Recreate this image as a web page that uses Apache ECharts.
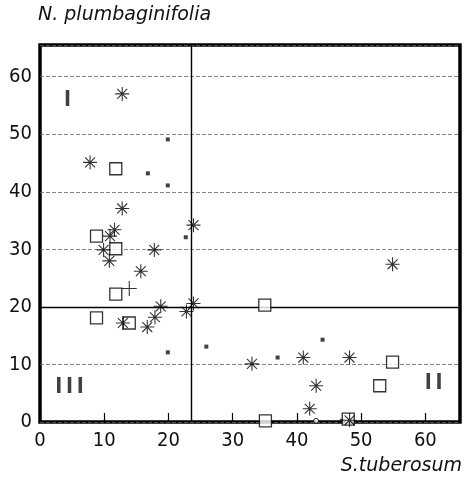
<!DOCTYPE html>
<html>
<head>
<meta charset="utf-8">
<title>N. plumbaginifolia vs S.tuberosum</title>
<script src="https://cdn.jsdelivr.net/npm/echarts@6/dist/echarts.min.js"></script>
<style>
  html, body { margin: 0; padding: 0; background: #fff; }
  #chart { width: 465px; height: 479px; }
</style>
</head>
<body>
<div id="chart"></div>
<script>
// axis ticks
var xTicks = [0, 10, 20, 30, 40, 50, 60];
var yTicks = [0, 10, 20, 30, 40, 50, 60];

// asterisk points [S.tuberosum, N.plumbaginifolia]
var starPts = [
  [12.8, 57.0], [7.8, 45.1], [12.8, 37.1], [23.9, 34.2], [11.6, 33.4],
  [10.9, 32.3], [9.9, 29.9], [10.8, 28.0], [17.8, 29.9], [15.7, 26.2],
  [18.8, 20.1], [17.9, 18.2], [16.7, 16.5], [12.9, 17.2], [23.9, 20.6],
  [22.8, 19.2], [33.0, 10.1], [41.0, 11.2], [48.2, 11.2], [43.0, 6.3],
  [42.0, 2.3], [54.9, 27.4], [48.2, 0.3]
];
// open squares
var squarePts = [
  [11.8, 44.0], [8.8, 32.3], [11.8, 30.1], [11.8, 22.2], [8.8, 18.1],
  [13.9, 17.2], [35.0, 20.3], [54.9, 10.4], [52.9, 6.3], [35.1, 0.2],
  [48.0, 0.5]
];
// small filled squares
var dotPts = [
  [16.8, 43.2], [19.9, 49.1], [19.9, 41.1], [22.7, 32.1], [19.9, 12.1],
  [25.9, 13.1], [37.0, 11.2], [44.0, 14.3], [47.0, 0.2]
];
// small open circle on the axis
var circlePts = [[43.0, 0.2]];
// plus sign
var plusPts = [[13.9, 23.2]];

// dividing lines
var xDivide = 23.6;
var yDivide = 20;

// quadrant labels
var quadLabels = [
  { name: 'I', value: [4.3, 55.8] },
  { name: 'I\u2009I', value: [61.3, 6.7] },
  { name: 'I\u2009I\u2009I', value: [4.6, 5.9] }
];

var font = "'DejaVu Sans Condensed', 'DejaVu Sans', sans-serif";
var nameFont = "'DejaVu Sans', sans-serif";
var starPath = 'path://M10 0L10 20M0 10L20 10M2.9 2.9L17.1 17.1M17.1 2.9L2.9 17.1';
var plusPath = 'path://M10 0L10 20M0 10L20 10';

var chart = echarts.init(document.getElementById('chart'), null, { renderer: 'canvas' });

var option = {
  animation: false,
  backgroundColor: '#fff',
  grid: {
    left: 40, right: 5, top: 45, bottom: 57,
    show: true, borderColor: '#000', borderWidth: 3.5
  },
  graphic: [
    {
      type: 'text', left: 38, top: 6,
      style: { text: 'N. plumbaginifolia', font: 'italic 19px ' + nameFont, fill: '#111' }
    },
    {
      type: 'text', right: 3, top: 457,
      style: { text: 'S.tuberosum', font: 'italic 19px ' + nameFont, fill: '#111' }
    }
  ],
  xAxis: {
    type: 'value', min: 0, max: 65.4, interval: 10,
    axisLine: { show: false },
    axisTick: { show: true, inside: true, length: 9, lineStyle: { color: '#000', width: 1.2 } },
    axisLabel: {
      margin: 9, fontSize: 20, fontFamily: font, color: '#111', showMaxLabel: false,
      formatter: function (v) { return xTicks.indexOf(v) >= 0 ? String(v) : ''; }
    },
    splitLine: { show: false }
  },
  yAxis: {
    type: 'value', min: 0, max: 65.5, interval: 10,
    axisLine: { show: false },
    axisTick: { show: false },
    axisLabel: {
      margin: 8, fontSize: 20, fontFamily: font, color: '#111', showMaxLabel: false,
      formatter: function (v) { return yTicks.indexOf(v) >= 0 ? String(v) : ''; }
    },
    splitLine: { show: true, lineStyle: { color: '#666', width: 0.8, type: [4, 2] } }
  },
  series: [
    {
      name: 'dots', type: 'scatter', data: dotPts,
      symbol: 'rect', symbolSize: 4,
      itemStyle: { color: '#111' },
      markLine: {
        z: 1, silent: true, symbol: 'none', label: { show: false },
        lineStyle: { color: '#000', width: 1.4, type: 'solid' },
        data: [{ xAxis: xDivide }, { yAxis: yDivide }]
      }
    },
    {
      name: 'circle', type: 'scatter', data: circlePts,
      symbol: 'circle', symbolSize: 5,
      itemStyle: { color: '#fff', borderColor: '#000', borderWidth: 1 }
    },
    {
      name: 'squares', type: 'scatter', data: squarePts,
      symbol: 'rect', symbolSize: 12,
      itemStyle: { color: '#fff', borderColor: '#000', borderWidth: 1.3 }
    },
    {
      name: 'stars', type: 'scatter', data: starPts,
      symbol: starPath, symbolSize: 14,
      itemStyle: { color: 'none', borderColor: '#000', borderWidth: 1.1 }
    },
    {
      name: 'plus', type: 'scatter', data: plusPts,
      symbol: plusPath, symbolSize: 15,
      itemStyle: { color: 'none', borderColor: '#000', borderWidth: 1.1 }
    },
    {
      name: 'quadrants', type: 'scatter', data: quadLabels,
      symbolSize: 0, silent: true,
      label: {
        show: true, position: 'inside', formatter: '{b}',
        fontFamily: font, fontWeight: 'bold', fontSize: 21, color: '#111'
      }
    }
  ]
};

chart.setOption(option);
</script>
</body>
</html>
